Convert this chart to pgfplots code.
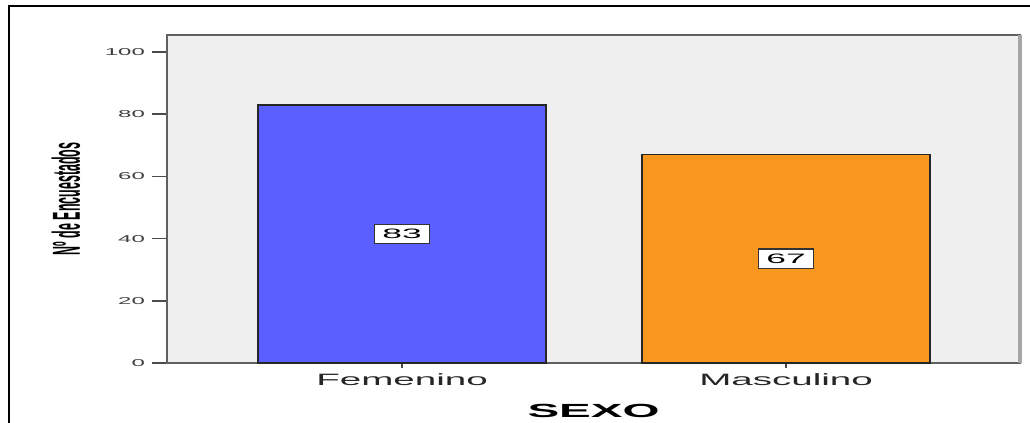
\documentclass[border=0pt]{standalone}
\usepackage{pgfplots}
\pgfplotsset{compat=1.18}
\usepackage{fontspec}
\setmainfont{Liberation Sans}
\usepackage{graphicx}

\definecolor{fem}{RGB}{91,95,255}
\definecolor{masc}{RGB}{247,151,30}
\definecolor{plotbg}{RGB}{239,239,239}

\begin{document}
\begin{tikzpicture}
% outer frame (cut at right and bottom like the reference)
\path[use as bounding box] (-83.5pt,-30pt) rectangle (431.5pt,181.5pt);
\draw[black, line width=1pt] (-79pt,-31pt) -- (-79pt,178.5pt) -- (432pt,178.5pt);

\begin{axis}[
    at={(0,0)}, anchor=south west,
    scale only axis,
    width=426.5pt, height=164pt,
    xmin=-0.612, xmax=1.609,
    ymin=0, ymax=105.5,
    axis background/.style={fill=plotbg},
    axis line style={draw=gray!75!black, line width=1pt},
    ytick={0,20,40,60,80,100},
    yticklabel={\scalebox{2.4}[1]{\pgfmathprintnumber[assume math mode=true]{\tick}}},
    yticklabel style={font=\fontsize{5}{6}\selectfont, color=black!75},
    xtick={0,1},
    xticklabels={\scalebox{2.35}[1]{Femenino},\scalebox{2.35}[1]{Masculino}},
    xticklabel style={font=\fontsize{8.2}{9}\selectfont, color=black!85, yshift=5.5pt},
    tick align=outside,
    xtick pos=bottom, ytick pos=left,
    major tick length=7.5pt,
    ytick style={draw=gray!60!black, line width=0.8pt},
    xtick style={draw=none},
    extra x ticks={0,1},
    extra x tick labels={},
    extra tick style={major tick length=2.5pt,
        xtick style={draw=gray!60!black, line width=0.8pt}},
    xlabel={\scalebox{2.5}[1]{SEXO}},
    xlabel style={font=\fontsize{9.5}{10}\selectfont\bfseries, at={(rel axis cs:0.5,0)}, anchor=center, yshift=-24pt},
    ylabel={\scalebox{0.78}[2.44]{Nº de Encuestados}},
    ylabel style={font=\fontsize{8}{9}\selectfont\bfseries, at={(rel axis cs:0,0.5)}, anchor=center, yshift=50.5pt},
    clip=false,
]
\addplot[ybar, bar width=0.75, fill=fem, draw=black!85, line width=0.7pt]
    coordinates {(0,83)};
\addplot[ybar, bar width=0.75, fill=masc, draw=black!85, line width=0.7pt]
    coordinates {(1,67)};
% value labels in the middle of each bar
\addplot[only marks, mark=none, point meta=explicit symbolic,
    nodes near coords={\scalebox{2.6}[1]{\pgfplotspointmeta}},
    every node near coord/.append style={anchor=center, fill=white, draw=black!80,
        line width=0.6pt, inner xsep=4pt, inner ysep=2.5pt,
        font=\fontsize{6.8}{7}\selectfont}]
    coordinates {(0,41.5)[83] (1,33.5)[67]};
% heavier right edge of the plot area
\draw[gray!70, line width=1.6pt] (rel axis cs:1,0) -- (rel axis cs:1,1);
\end{axis}
\end{tikzpicture}
\end{document}
